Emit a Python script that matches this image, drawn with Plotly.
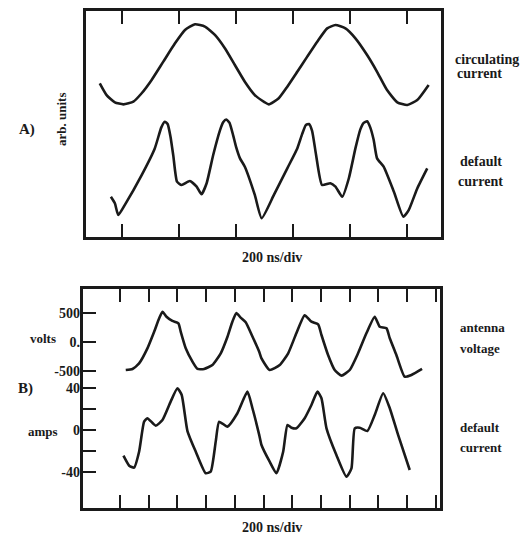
import plotly.graph_objects as go

# page body has an 8px margin: figure is drawn from (8, 8) of the window
OFF = 8
W, H = 521, 530

# ---------------- Panel A data (time in ns, arbitrary units) ----------------
a_circ_t = [-78, -54, -25, 5, 40, 69, 104, 145, 186, 221, 256, 291, 326, 361, 396, 431, 466, 501,
            515, 550, 580, 615, 650, 685, 720, 749, 784, 819, 860, 895, 930, 966, 1001, 1036, 1076]
a_circ_v = [68.0, 62.8, 59.6, 58.7, 59.9, 63.6, 69.5, 77.6, 85.7, 91.6, 94.1, 93.1, 89.4, 83.5, 76.1, 68.7, 62.8, 59.6,
            58.7, 61.4, 66.5, 73.1, 79.8, 86.4, 92.3, 93.8, 92.3, 87.9, 80.5, 73.1, 65.0, 59.6, 58.4, 60.6, 67.3]

a_def_t = [-39, -25, -13, 10, 69, 115, 138, 150, 160, 170, 180, 193, 209, 238, 262, 279, 297, 320, 344, 355, 366,
           377, 390, 400, 414, 431, 466, 490, 533, 580, 615, 632, 645, 656, 667, 681, 702, 731, 749, 773, 796, 819,
           836, 848, 860, 871, 883, 895, 918, 954, 987, 1006, 1036, 1071]
a_def_v = [17.8, 14.9, 9.7, 14.2, 27.4, 39.2, 48.5, 51.0, 50.0, 44.5, 36.0, 24.5, 23.0, 24.8, 22.3, 18.9, 23.8, 36.3,
           47.3, 50.8, 52.0, 50.6, 45.0, 40.0, 34.8, 31.1, 18.6, 8.3, 18.6, 30.4, 39.2, 45.5, 49.5, 50.0, 47.0, 36.3,
           23.0, 23.8, 22.3, 17.8, 26.0, 39.2, 47.5, 50.5, 51.2, 48.5, 43.0, 34.8, 31.1, 20.0, 9.0, 11.9, 21.5, 30.4]

# ---------------- Panel B data (time in ns) ----------------
b_volt_t = [40, 87, 133, 191, 238, 273, 296, 324, 365, 407, 423, 458, 505, 540, 586, 644, 702, 749, 783, 811, 841,
            876, 918, 970, 986, 1043, 1113, 1172, 1229, 1287, 1334, 1381, 1404, 1450, 1496, 1543, 1601, 1659, 1717,
            1775, 1810, 1857, 1880, 1926, 1984, 2031, 2105]
b_volt_v = [-483, -465, -367, -107, 181, 413, 525, 441, 367, 327, 181, -107, -339, -465, -465, -396, -193, 94, 354,
            505, 424, 344, 124, -167, -282, -483, -396, -193, 153, 465, 354, 309, 124, -223, -483, -581, -483, -193,
            153, 440, 268, 240, 67, -223, -599, -569, -465]

b_curr_t = [24, 64, 98, 133, 168, 191, 249, 296, 353, 400, 430, 470, 528, 597, 632, 667, 691, 749, 818, 888, 923,
            970, 986, 1043, 1090, 1137, 1167, 1195, 1229, 1287, 1334, 1376, 1404, 1439, 1508, 1578, 1613, 1636, 1671,
            1724, 1775, 1834, 1880, 1938, 2019]
b_curr_i = [-24.8, -34.3, -36.2, -21.0, 7.6, 10.9, 3.8, 9.2, 26.7, 39.4, 33.0, -1.3, -21.0, -41.5, -40.0, -11.4, 7.6,
            2.9, 15.6, 36.2, 20.4, -5.0, -14.6, -30.5, -41.5, -21.0, 4.5, 1.9, 1.3, 10.9, 23.5, 36.2, 29.9, 1.3,
            -24.1, -44.8, -36.8, 1.3, 1.9, -1.2, 14.0, 34.7, 20.4, -5.0, -38.4]

a_ticks = [0, 200, 400, 600, 800, 1000]
b_ticks = [0, 200, 400, 600, 800, 1000, 1200, 1400, 1600, 1800, 2000, 2200]
volt_tickvals = [500, 0, -500]
volt_ticktext = ["500", "0.", "-500"]
amp_tickvals = [40, 20, 0, -20, -40]
amp_ticktext = ["40", "", "0", "", "-40"]

INK = "#1a1a1a"
FONT = "Liberation Serif"


def px(x):
    return (x - OFF) / W


def py(y):
    return 1 - (y - OFF) / H


fig = go.Figure()
line = dict(color=INK, width=2.6, shape="spline", smoothing=0.5)

fig.add_trace(go.Scatter(x=a_circ_t, y=a_circ_v, mode="lines", line=line, xaxis="x", yaxis="y"))
fig.add_trace(go.Scatter(x=a_def_t, y=a_def_v, mode="lines", line=line, xaxis="x", yaxis="y"))
fig.add_trace(go.Scatter(x=[], y=[], mode="lines", xaxis="x2", yaxis="y3"))
fig.add_trace(go.Scatter(x=b_volt_t, y=b_volt_v, mode="lines", line=line, xaxis="x2", yaxis="y4"))
fig.add_trace(go.Scatter(x=b_curr_t, y=b_curr_i, mode="lines", line=line, xaxis="x2", yaxis="y5"))

frame = dict(showline=True, linecolor=INK, linewidth=3, showgrid=False, zeroline=False, fixedrange=True)
tickfont = dict(family=FONT, size=14, color=INK, weight="bold")

fig.update_layout(
    width=W, height=H,
    margin=dict(l=0, r=0, t=0, b=0),
    paper_bgcolor="white", plot_bgcolor="white",
    showlegend=False, hovermode=False,
    font=dict(family=FONT, size=14, color=INK),
    xaxis=dict(**frame, domain=[px(86), px(441)], range=[-126.3, 1119.3], anchor="y",
               mirror="ticks", ticks="inside", ticklen=13, tickwidth=2, tickcolor=INK,
               tickvals=a_ticks, showticklabels=False),
    yaxis=dict(**frame, domain=[py(237), py(11)], range=[0, 100], anchor="x",
               mirror=True, ticks="", showticklabels=False),
    xaxis2=dict(**frame, domain=[px(83), px(440)], range=[-257.9, 2230], anchor="y3",
                mirror="ticks", ticks="inside", ticklen=13, tickwidth=2, tickcolor=INK,
                tickvals=b_ticks, showticklabels=False),
    yaxis3=dict(**frame, domain=[py(508.3), py(289.3)], range=[0, 1], anchor="x2",
                mirror=True, ticks="", showticklabels=False),
    yaxis4=dict(showline=False, showgrid=False, zeroline=False, overlaying="y3", anchor="x2", side="left",
                range=[-2880, 916], ticks="inside", ticklen=13, tickwidth=2, tickcolor=INK,
                tickvals=volt_tickvals, ticktext=volt_ticktext, tickfont=tickfont, ticklabelstandoff=2),
    yaxis5=dict(showline=False, showgrid=False, zeroline=False, overlaying="y3", anchor="x2", side="left",
                range=[-74.9, 133.7], ticks="inside", ticklen=13, tickwidth=2, tickcolor=INK,
                tickvals=amp_tickvals, ticktext=amp_ticktext, tickfont=tickfont, ticklabelstandoff=2),
)


def label(text, x, y, xanchor="center", angle=0, size=14):
    fig.add_annotation(text=text, xref="paper", yref="paper", x=px(x), y=py(y), xanchor=xanchor,
                       yanchor="middle", showarrow=False, textangle=angle,
                       font=dict(family=FONT, size=size, color=INK, weight="bold"))


label("A)", 27, 130, size=15)
label("arb. units", 62, 120, angle=-90, size=13)
label("circulating", 453, 60, xanchor="left")
label("current", 455, 74, xanchor="left")
label("default", 481, 162)
label("current", 480, 181)
label("200 ns/div", 272, 257)

label("B)", 25, 388, size=15)
label("volts", 43, 338, size=13)
label("amps", 43, 431, size=13)
label("antenna", 458, 327, xanchor="left", size=13)
label("voltage", 458, 348, xanchor="left", size=13)
label("default", 458, 427, xanchor="left", size=13)
label("current", 458, 447, xanchor="left", size=13)
label("200 ns/div", 272, 527)

fig.write_html("out.html")
